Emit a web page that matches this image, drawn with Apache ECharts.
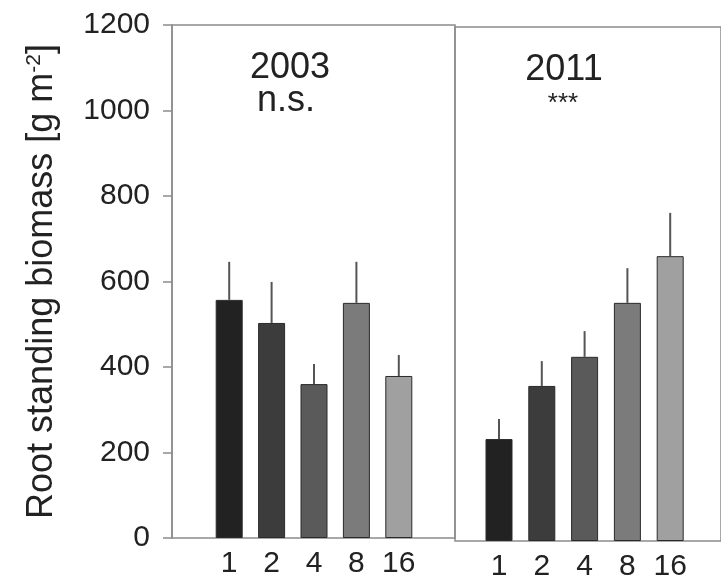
<!DOCTYPE html>
<html>
<head>
<meta charset="utf-8">
<script src="https://cdn.jsdelivr.net/npm/echarts@6/dist/echarts.min.js"></script>
<style>
html,body{margin:0;padding:0;background:#fff;}
#chart{width:721px;height:582px;}
</style>
</head>
<body>
<div id="chart"></div>
<script>
const categories = ['1', '2', '4', '8', '16'];
const values2003 = [557, 503, 360, 550, 379];
const errUpper2003 = [646, 599, 407, 646, 428];
const values2011 = [238, 362, 430, 556, 665];
const errUpper2011 = [285, 420, 490, 637, 766];
const barColors = ['#222222', '#3c3c3c', '#5a5a5a', '#7b7b7b', '#a0a0a0'];
const yMin = 0, yMax = 1200, yInterval = 200;
const panelTitles = ['2003', '2011'];
const panelSig = ['n.s.', '***'];
const yName = 'Root standing biomass [g m{sup|-2}]';

const FONT = "'Liberation Sans', Arial, sans-serif";
const frameColor = '#8c8c8c';

function barData(vals) {
  return vals.map((v, i) => ({ value: v, itemStyle: { color: barColors[i] } }));
}
function errData(vals, ups) {
  return vals.map((v, i) => [i, v, ups[i]]);
}
function errRender(params, api) {
  const x = api.value(0);
  const lo = api.coord([x, api.value(1)]);
  const hi = api.coord([x, api.value(2)]);
  return {
    type: 'line',
    shape: { x1: lo[0], y1: lo[1], x2: hi[0], y2: hi[1] },
    style: { stroke: '#555555', lineWidth: 2 }
  };
}
const hiddenY = (g) => ({ type: 'value', gridIndex: g, min: yMin, max: yMax, interval: yInterval, show: false });
const barX = (g) => ({
  type: 'category', gridIndex: g, data: categories,
  axisLine: { show: false }, axisTick: { show: false },
  axisLabel: { interval: 0, fontFamily: FONT, fontSize: 30, color: '#222', margin: 11 }
});

const chart = echarts.init(document.getElementById('chart'));
chart.setOption({
  animation: false,
  backgroundColor: '#ffffff',
  grid: [
    { left: 172, top: 25, width: 283, height: 513, show: true, borderColor: frameColor, borderWidth: 1.5, backgroundColor: 'transparent' },
    { left: 455, top: 27, width: 300, height: 514, show: true, borderColor: frameColor, borderWidth: 1.5, backgroundColor: 'transparent' },
    { left: 208, top: 25, width: 212, height: 513 },
    { left: 477.6, top: 27, width: 214, height: 514 }
  ],
  xAxis: [
    { type: 'value', gridIndex: 0, show: false },
    { type: 'value', gridIndex: 1, show: false },
    barX(2),
    barX(3)
  ],
  yAxis: [
    {
      type: 'value', gridIndex: 0, min: yMin, max: yMax, interval: yInterval,
      axisLine: { show: true, lineStyle: { color: frameColor, width: 1.5 } },
      axisTick: { show: true, inside: false, length: 9, lineStyle: { color: frameColor, width: 1.5 } },
      axisLabel: { fontFamily: FONT, fontSize: 30, color: '#222', margin: 22, formatter: (v) => String(v) },
      splitLine: { show: false },
      name: yName,
      nameLocation: 'middle',
      nameGap: 112,
      nameRotate: 90,
      nameTextStyle: {
        fontFamily: FONT, fontSize: 36, color: '#222',
        rich: { sup: { fontFamily: FONT, fontSize: 21, color: '#222', verticalAlign: 'top' } }
      }
    },
    hiddenY(1),
    hiddenY(2),
    hiddenY(3)
  ],
  series: [
    { type: 'bar', xAxisIndex: 2, yAxisIndex: 2, data: barData(values2003), barWidth: 27,
      itemStyle: { borderColor: '#2a2a2a', borderWidth: 1 } },
    { type: 'custom', xAxisIndex: 2, yAxisIndex: 2, data: errData(values2003, errUpper2003), renderItem: errRender, z: 3 },
    { type: 'bar', xAxisIndex: 3, yAxisIndex: 3, data: barData(values2011), barWidth: 27,
      itemStyle: { borderColor: '#2a2a2a', borderWidth: 1 } },
    { type: 'custom', xAxisIndex: 3, yAxisIndex: 3, data: errData(values2011, errUpper2011), renderItem: errRender, z: 3 }
  ],
  graphic: [
    { type: 'text', x: 290, y: 68, style: { text: panelTitles[0], font: '36px ' + FONT, fill: '#222', align: 'center', verticalAlign: 'middle' } },
    { type: 'text', x: 286, y: 101, style: { text: panelSig[0], font: '36px ' + FONT, fill: '#222', align: 'center', verticalAlign: 'middle' } },
    { type: 'text', x: 564, y: 70, style: { text: panelTitles[1], font: '36px ' + FONT, fill: '#222', align: 'center', verticalAlign: 'middle' } },
    { type: 'text', x: 563, y: 104, style: { text: panelSig[1], font: '26px ' + FONT, fill: '#222', align: 'center', verticalAlign: 'middle' } }
  ]
});
</script>
</body>
</html>
